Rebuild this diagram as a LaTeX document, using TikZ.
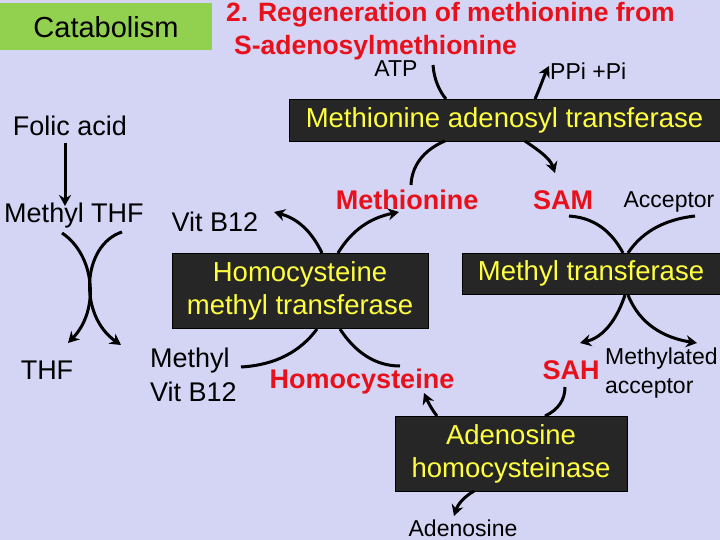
\documentclass[tikz,border=0pt]{standalone}
\usepackage{fontspec}
\setmainfont{Liberation Sans}
\usetikzlibrary{arrows.meta}
\definecolor{bg}{HTML}{D4D4F4}
\definecolor{grn}{HTML}{92D050}
\definecolor{box}{HTML}{262626}
\definecolor{ylw}{HTML}{FFFF40}
\definecolor{rd}{HTML}{E8101A}
\begin{document}
\begin{tikzpicture}[x=1pt,y=-1pt,
  enz/.style={fill=box,draw=black,text=ylw,font=\fontsize{27.5}{33}\selectfont,inner sep=0pt,align=center},
  met/.style={text=rd,font=\bfseries\fontsize{27}{30}\selectfont,inner sep=0pt},
  lab/.style={text=black,font=\fontsize{27}{30}\selectfont,inner sep=0pt,align=left},
  sm/.style={text=black,font=\fontsize{23}{26}\selectfont,inner sep=0pt,align=left},
  ln/.style={line width=3pt},
  ar/.style={line width=3pt,-{Stealth[length=11pt,width=12pt]}}]
\fill[bg] (0,0) rectangle (720,540);
\useasboundingbox (0,0) rectangle (720,540);
% header
\node[fill=grn,minimum width=212,minimum height=47,inner sep=0pt,font=\fontsize{29}{33}\selectfont] (cat) at (106,27) {Catabolism};
\node[text=rd,font=\bfseries\fontsize{26.5}{33}\selectfont,anchor=north west,align=left,inner sep=0pt] (title) at (226,2) {2. Regeneration of methionine from\\\hspace*{8pt}S-adenosylmethionine};
% enzyme boxes
\node[enz,minimum width=431,minimum height=42] (mat) at (504.5,120) {Methionine adenosyl transferase};
\node[enz,minimum width=256,minimum height=75] (hmt) at (300,290.5) {Homocysteine\\methyl transferase};
\node[enz,minimum width=258,minimum height=41] (mt) at (591,273.5) {Methyl transferase};
\node[enz,minimum width=232,minimum height=75] (ah) at (511,453.5) {Adenosine\\homocysteinase};
% metabolites
\node[met] (meth) at (407,200) {Methionine};
\node[met] (sam) at (563,200) {SAM};
\node[met] (hcy) at (362,382) {Homocysteine};
\node[met] (sah) at (571,370) {SAH};
% labels
\node[sm] (atp) at (396,69) {ATP};
\node[sm,anchor=west] (ppi) at (550,71) {PPi +Pi};
\node[lab] (fol) at (70,126) {Folic acid};
\node[lab] (mthf) at (74,216) {Methyl THF};
\node[lab] (vit) at (215,222) {Vit B12};
\node[lab] (thf) at (47,370) {THF};
\node[lab,anchor=west,font=\fontsize{27}{34}\selectfont] (mvit) at (150,375) {Methyl\\Vit B12};
\node[sm,anchor=west,font=\fontsize{23}{29}\selectfont] (macc) at (605,373) {Methylated\\acceptor};
\node[sm] (acc) at (669,202) {Acceptor};
\node[sm] (ado) at (463,528) {Adenosine};
% connectors
\coordinate (f1) at (65,143); \coordinate (f2) at (65,206);
\draw[ar] (f1) -- (f2);
\coordinate (t1) at (62,233); \coordinate (t2) at (68,343);
\coordinate (t3) at (122,232); \coordinate (t4) at (121,345);
\draw[ar] (t1) .. controls (95,255) and (100,310) .. (t2);
\draw[ar] (t3) .. controls (82,245) and (78,315) .. (t4);
% HMT
\coordinate (h1) at (322,253); \coordinate (h2) at (274,212);
\coordinate (h3) at (338,253); \coordinate (h4) at (399,212);
\draw[ar] (h1) .. controls (310,228) and (295,218) .. (h2);
\draw[ar] (h3) .. controls (352,230) and (370,218) .. (h4);
\coordinate (h5) at (241,367); \coordinate (h6) at (317,329);
\coordinate (h7) at (340,329); \coordinate (h8) at (400,366);
\draw[ln] (h5) .. controls (275,365) and (300,352) .. (h6);
\draw[ln] (h7) .. controls (355,352) and (375,366) .. (h8);
% MAT
\coordinate (m1) at (411,185); \coordinate (m2) at (445,141);
\coordinate (m3) at (525,141); \coordinate (m4) at (555,173);
\draw[ln] (m1) .. controls (412,162) and (428,148) .. (m2);
\draw[ar] (m3) .. controls (538,150) and (550,158) .. (m4);
\coordinate (a1) at (433,65); \coordinate (a2) at (446,99);
\draw[ln] (a1) .. controls (434,80) and (440,92) .. (a2);
\coordinate (p1) at (535,99); \coordinate (p2) at (549,66);
\draw[ar] (p1) .. controls (540,88) and (544,76) .. (p2);
% MT
\coordinate (s1) at (569,216); \coordinate (s2) at (623,253);
\coordinate (c1) at (695,216); \coordinate (c2) at (628,253);
\draw[ln] (s1) .. controls (600,218) and (615,238) .. (s2);
\draw[ln] (c1) .. controls (660,220) and (640,235) .. (c2);
\coordinate (s3) at (625,295); \coordinate (s4) at (580,343);
\coordinate (c3) at (628,295); \coordinate (c4) at (697,343);
\draw[ar] (s3) .. controls (615,325) and (600,338) .. (s4);
\draw[ar] (c3) .. controls (640,325) and (665,338) .. (c4);
% AH
\coordinate (q1) at (565,387); \coordinate (q2) at (545,416);
\draw[ln] (q1) .. controls (565,400) and (558,410) .. (q2);
\coordinate (q3) at (437,416); \coordinate (q4) at (424,393);
\draw[ar] (q3) .. controls (432,410) and (427,400) .. (q4);
\coordinate (q5) at (474,491); \coordinate (q6) at (454,516);
\draw[ar] (q5) .. controls (464,497) and (458,504) .. (q6);
\end{tikzpicture}
\end{document}
